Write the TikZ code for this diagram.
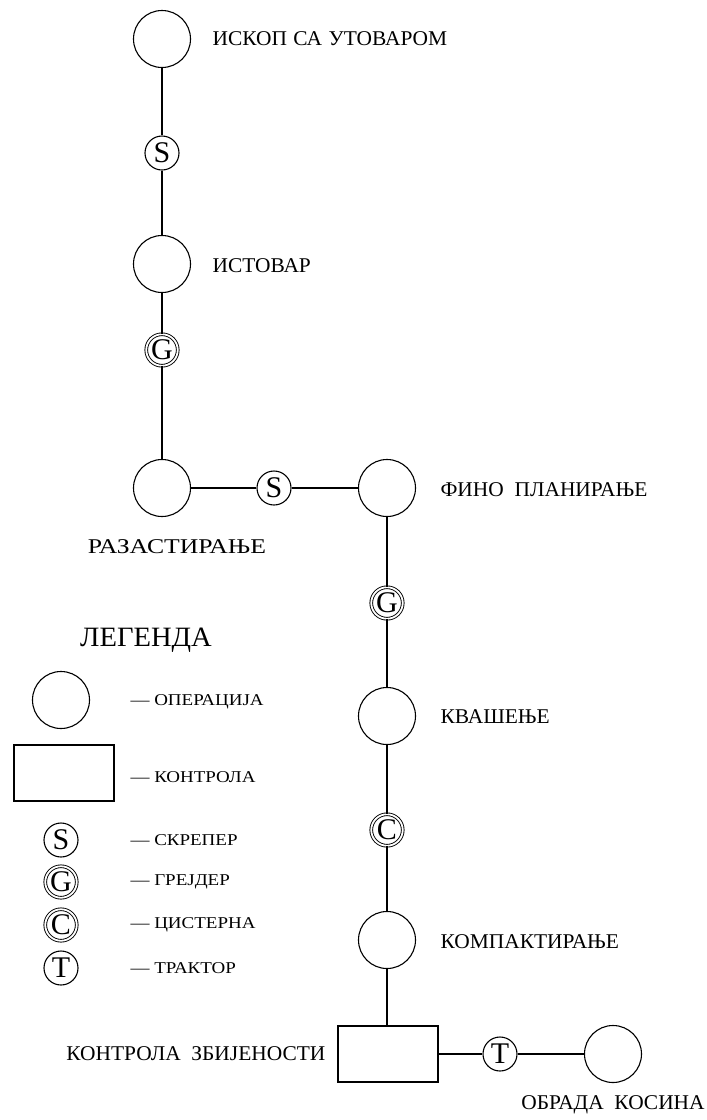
\documentclass[tikz,border=0pt]{standalone}
\usepackage{fontspec}
\setmainfont{Liberation Serif}
\newfontfamily\lblfont[FakeStretch=1.02]{Liberation Serif}
\newfontfamily\legfont[FakeStretch=1.15]{Liberation Serif}
\begin{document}
\begin{tikzpicture}[x=1pt,y=-1pt,
  line width=1.1pt,
  op/.style={circle,draw,minimum size=57pt,inner sep=0pt},
  ctrl/.style={rectangle,draw,minimum width=100pt,minimum height=56pt,inner sep=0pt},
  mach/.style={circle,draw,minimum size=34pt,inner sep=0pt,font=\fontsize{30}{30}\selectfont},
  dmach/.style={mach,double,line width=0.9pt,double distance=1.8pt,minimum size=31.5pt},
  lbl/.style={font=\lblfont\fontsize{21}{22}\selectfont,inner sep=0pt},
  leg/.style={font=\legfont\fontsize{16.5}{17}\selectfont,inner sep=0pt,anchor=west}]
\useasboundingbox (0,0) rectangle (707,1120);
% main flow
\node[op] (o1) at (162,39) {};
\node[mach] (s1) at (162,153) {S};
\node[op] (o2) at (162,264) {};
\node[dmach] (g1) at (162,350) {G};
\node[op] (o3) at (162,488) {};
\node[mach] (s2) at (274,488) {S};
\node[op] (o4) at (387,488) {};
\node[dmach] (g2) at (387,603) {G};
\node[op] (o5) at (387,716) {};
\node[dmach] (c1) at (387,830) {C};
\node[op] (o6) at (387,940) {};
\node[ctrl] (r1) at (388,1054) {};
\node[mach] (t1) at (500,1054) {T};
\node[op] (o7) at (613,1054) {};
\draw (o1) -- (s1) -- (o2) -- (g1) -- (o3) -- (s2) -- (o4) -- (g2) -- (o5) -- (c1) -- (o6) -- (r1.north -| o6);
\draw (r1) -- (t1) -- (o7);
% labels
\node[lbl,anchor=west] (l1) at (212,39) {ИСКОП\hspace{6.5pt}СА\hspace{6.5pt}УТОВАРОМ};
\node[lbl,anchor=west] (l2) at (212,266) {ИСТОВАР};
\node[lbl] (l3) at (177,547) {\scalebox{1.2}[1]{РАЗАСТИРАЊЕ}};
\node[lbl,anchor=west] (l4) at (440,490) {ФИНО\ \ ПЛАНИРАЊЕ};
\node[lbl,anchor=west] (l5) at (440,717) {КВАШЕЊЕ};
\node[lbl,anchor=west] (l6) at (440,942) {КОМПАКТИРАЊЕ};
\node[lbl,anchor=east] (l7) at (326,1054) {КОНТРОЛА\ \ ЗБИЈЕНОСТИ};
\node[lbl] (l8) at (613,1105) {ОБРАДА\ \ КОСИНА};
% legend
\node[font=\lblfont\fontsize{28}{28}\selectfont,inner sep=0pt] (lt) at (146,640) {ЛЕГЕНДА};
\node[op] (lo) at (61,700) {};
\node[ctrl] (lr) at (64,773) {};
\node[mach] (ls) at (61,840) {S};
\node[dmach] (lg) at (61,882) {G};
\node[dmach] (lc) at (61,925) {C};
\node[mach] (ltt) at (61,968) {T};
\node[leg] (t1l) at (130,702) {— ОПЕРАЦИЈА};
\node[leg] (t2l) at (130,777) {— КОНТРОЛА};
\node[leg] (t3l) at (130,840) {— СКРЕПЕР};
\node[leg] (t4l) at (130,882) {— ГРЕЈДЕР};
\node[leg] (t5l) at (130,925) {— ЦИСТЕРНА};
\node[leg] (t6l) at (130,968) {— ТРАКТОР};
\end{tikzpicture}
\end{document}
